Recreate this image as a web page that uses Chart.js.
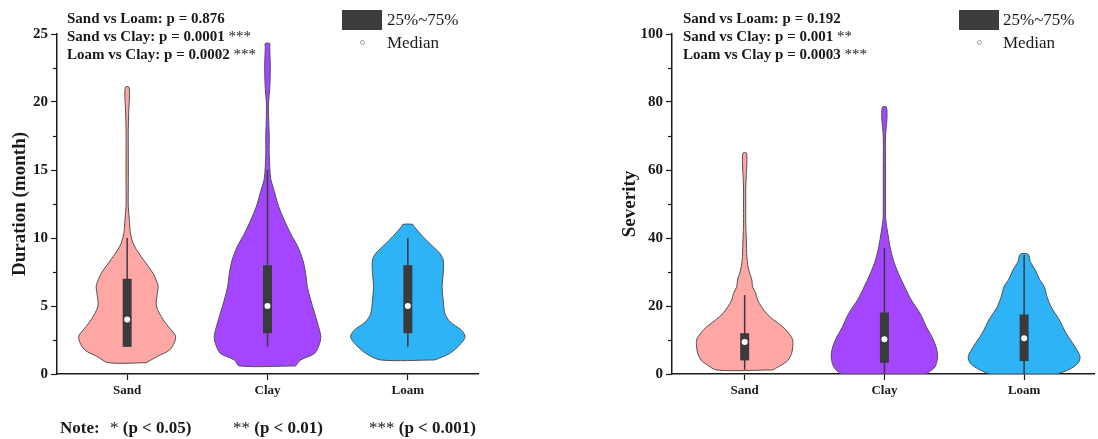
<!DOCTYPE html>
<html>
<head>
<meta charset="utf-8">
<script src="https://cdn.jsdelivr.net/npm/chart.js@4.4.1/dist/chart.umd.min.js"></script>
<style>
  body { margin: 0; background: #fff; }
  #wrap { position: relative; width: 1098px; height: 439px; overflow: hidden; font-family: "Liberation Serif", serif; color: #1a1a1a; }
  .panel { position: absolute; top: 0; width: 549px; height: 439px; }
  .ptext { position: absolute; top: 9px; font-weight: bold; font-size: 15px; line-height: 18px; white-space: nowrap; }
  .star { font-weight: normal; }
  .lg-box { position: absolute; top: 10px; width: 40px; height: 20px; background: #3d3d3d; }
  .lg-dot { position: absolute; top: 40px; width: 3px; height: 3px; border: 1px solid #9a9a9a; border-radius: 50%; }
  .lg-text { position: absolute; font-size: 17px; line-height: 20px; white-space: nowrap; }
  .note { position: absolute; top: 418px; font-size: 17px; font-weight: bold; line-height: 20px; white-space: nowrap; }
</style>
</head>
<body>
<div id="wrap">
  <div class="panel" style="left:0"><canvas id="durChart" width="549" height="439"></canvas></div>
  <div class="panel" style="left:549px"><canvas id="sevChart" width="549" height="439"></canvas></div>

  <div class="ptext" style="left:67px">
    Sand vs Loam: p = 0.876<br>
    Sand vs Clay: p = 0.0001 <span class="star">***</span><br>
    Loam vs Clay: p = 0.0002 <span class="star">***</span>
  </div>
  <div class="ptext" style="left:683px">
    Sand vs Loam: p = 0.192<br>
    Sand vs Clay: p = 0.001 <span class="star">**</span><br>
    Loam vs Clay p = 0.0003 <span class="star">***</span>
  </div>

  <div class="lg-box" style="left:342px"></div>
  <div class="lg-text" style="left:387px;top:10px">25%~75%</div>
  <div class="lg-dot" style="left:360px"></div>
  <div class="lg-text" style="left:387px;top:33px">Median</div>

  <div class="lg-box" style="left:959px"></div>
  <div class="lg-text" style="left:1003px;top:10px">25%~75%</div>
  <div class="lg-dot" style="left:977px"></div>
  <div class="lg-text" style="left:1003px;top:33px">Median</div>

  <div class="note" style="left:60px">Note:</div>
  <div class="note" style="left:110px"><span class="star">*</span> (p &lt; 0.05)</div>
  <div class="note" style="left:233px"><span class="star">**</span> (p &lt; 0.01)</div>
  <div class="note" style="left:369px"><span class="star">***</span> (p &lt; 0.001)</div>
</div>

<script>
const categories = ["Sand", "Clay", "Loam"];
const fillColors = ["#FFA7A5", "#A445FF", "#2DB3F6"];
const boxColor = "#3b3b3b";
const VIOLIN_HALF = 0.4; // category units for density 1

// Duration (month) panel
const durTicks = [0, 5, 10, 15, 20, 25];
const durSandLevels = [0.83, 1.3, 1.75, 2.3, 2.8, 3.5, 4.0, 5.0, 6.0, 6.5, 7.4, 8.4, 9.4, 10.3, 11.3, 12.3, 14, 16, 18, 19.5, 20.3, 21.1];
const durSandDensity = [0.34, 0.54, 0.75, 0.84, 0.86, 0.73, 0.64, 0.52, 0.54, 0.55, 0.46, 0.29, 0.13, 0.06, 0.04, 0.02, 0.02, 0.02, 0.02, 0.03, 0.04, 0.03];
const durClayLevels = [0.59, 1.03, 1.52, 2.26, 2.75, 3.48, 4.46, 5.44, 6.42, 7.4, 8.38, 9.36, 10.34, 11.3, 12.3, 13.3, 14.3, 15.2, 16.2, 17.5, 19, 20, 21, 22.5, 24, 24.3];
const durClayDensity = [0.50, 0.59, 0.84, 0.93, 0.95, 0.91, 0.84, 0.77, 0.71, 0.68, 0.63, 0.54, 0.41, 0.30, 0.20, 0.13, 0.06, 0.04, 0.03, 0.03, 0.02, 0.02, 0.04, 0.05, 0.04, 0.04];
const durLoamLevels = [1.03, 1.52, 2.26, 2.75, 3.24, 3.85, 4.46, 5.44, 6.42, 7.4, 8.38, 8.87, 9.36, 10.1, 10.85, 11.0];
const durLoamDensity = [0.48, 0.75, 0.95, 1.02, 0.95, 0.75, 0.66, 0.63, 0.61, 0.63, 0.63, 0.57, 0.45, 0.27, 0.11, 0.09];
const durQ1 = [2, 3, 3];
const durQ3 = [7, 8, 8];
const durMedian = [4, 5, 5];
const durLow = [2, 2, 2];
const durHigh = [10, 15, 10];

// Severity panel
const sevTicks = [0, 20, 40, 60, 80, 100];
const sevSandLevels = [1.18, 3.14, 4.1, 6.08, 8.04, 10.0, 11.96, 13.9, 15.9, 17.8, 19.8, 21.8, 23.7, 25.7, 27.6, 29.6, 31.6, 34.5, 39.4, 44.3, 50, 55, 59, 62, 65];
const sevSandDensity = [0.50, 0.71, 0.78, 0.84, 0.86, 0.86, 0.79, 0.68, 0.52, 0.39, 0.30, 0.23, 0.20, 0.14, 0.13, 0.09, 0.06, 0.04, 0.03, 0.02, 0.02, 0.02, 0.03, 0.04, 0.03];
const sevClayLevels = [0, 2.2, 6.0, 9.9, 13.9, 17.8, 21.8, 25.7, 29.6, 33.5, 37.5, 41.4, 45.3, 50, 60, 70, 75, 78.5];
const sevClayDensity = [0.75, 0.91, 0.95, 0.88, 0.75, 0.64, 0.48, 0.36, 0.25, 0.16, 0.10, 0.06, 0.025, 0.02, 0.02, 0.02, 0.045, 0.035];
const sevLoamLevels = [0, 1.2, 3.1, 5.1, 8.0, 12.0, 15.9, 19.8, 22.7, 25.7, 28.0, 30.6, 33.0, 35.2];
const sevLoamDensity = [0.59, 0.79, 0.96, 1.0, 0.91, 0.75, 0.63, 0.48, 0.41, 0.36, 0.27, 0.20, 0.11, 0.07];
const sevQ1 = [4, 3.3, 3.8];
const sevQ3 = [12, 18.1, 17.5];
const sevMedian = [9.4, 10.2, 10.5];
const sevLow = [1.2, 0, 0];
const sevHigh = [23.2, 37, 35];

Chart.defaults.font.family = '"Liberation Serif", serif';
Chart.defaults.color = "#1a1a1a";

// short minor ticks between the labelled ones
const minorTicks = {
  id: "minorTicks",
  afterDraw(chart, args, opts) {
    const y = chart.scales.y;
    const ctx = chart.ctx;
    ctx.save();
    ctx.strokeStyle = "#1a1a1a";
    ctx.lineWidth = 1.2;
    opts.values.forEach((v) => {
      const py = Math.round(y.getPixelForValue(v)) + 0.5;
      ctx.beginPath();
      ctx.moveTo(y.right - 4, py);
      ctx.lineTo(y.right, py);
      ctx.stroke();
    });
    ctx.restore();
  },
};

function midpoints(ticks) {
  const out = [];
  for (let i = 1; i < ticks.length; i++) out.push((ticks[i - 1] + ticks[i]) / 2);
  return out;
}

function buildPanel(canvasId, p) {
  const datasets = [];
  categories.forEach((name, i) => {
    const c = i + 1;
    const lv = p.levels[i];
    const dn = p.density[i];
    const pts = [];
    for (let k = 0; k < lv.length; k++) pts.push({ x: c + dn[k] * VIOLIN_HALF, y: lv[k] });
    for (let k = lv.length - 1; k >= 0; k--) pts.push({ x: c - dn[k] * VIOLIN_HALF, y: lv[k] });
    pts.push(pts[0]);

    // violin outline
    datasets.push({
      data: pts, showLine: true, fill: "shape", tension: 0.3,
      backgroundColor: fillColors[i], borderColor: "#505050", borderWidth: 1,
      pointRadius: 0, order: 3,
    });
    // whisker
    datasets.push({
      data: [{ x: c, y: p.low[i] }, { x: c, y: p.high[i] }], showLine: true,
      borderColor: boxColor, borderWidth: 1.5, pointRadius: 0, order: 2,
    });
    // 25%~75% box
    datasets.push({
      data: [{ x: c, y: p.q1[i] }, { x: c, y: p.q3[i] }], showLine: true,
      borderColor: boxColor, borderWidth: 9, borderCapStyle: "butt", pointRadius: 0, order: 1,
    });
    // median
    datasets.push({
      data: [{ x: c, y: p.median[i] }], pointRadius: 3,
      backgroundColor: "#ffffff", borderColor: "#ffffff", borderWidth: 0, order: 0,
    });
  });

  return new Chart(document.getElementById(canvasId), {
    type: "scatter",
    data: { datasets },
    plugins: [minorTicks],
    options: {
      responsive: false,
      animation: false,
      layout: { padding: { left: 0, right: p.padRight, top: 34, bottom: 0 } },
      plugins: {
        legend: { display: false },
        tooltip: { enabled: false },
        minorTicks: { values: midpoints(p.ticks) },
      },
      scales: {
        x: {
          type: "linear", min: p.xMin, max: 3.5,
          afterBuildTicks: (s) => { s.ticks = categories.map((_, i) => ({ value: i + 1 })); },
          ticks: { callback: (v) => categories[v - 1], font: { size: 13, weight: "bold" }, padding: 3 },
          grid: { drawOnChartArea: false, tickLength: 6, color: "#1a1a1a", tickWidth: 1.2 },
          border: { color: "#1a1a1a", width: 1.5 },
          afterFit: (s) => { s.height = 65; },
        },
        y: {
          min: 0, max: p.ticks[p.ticks.length - 1],
          afterBuildTicks: (s) => { s.ticks = p.ticks.map((v) => ({ value: v })); },
          ticks: { font: { size: 15, weight: "bold" }, padding: 3 },
          grid: { drawOnChartArea: false, tickLength: 6, color: "#1a1a1a", tickWidth: 1.2 },
          border: { color: "#1a1a1a", width: 1.5 },
          title: { display: true, text: p.title, font: { size: 19, weight: "bold" }, padding: { top: p.titlePad, bottom: 0 } },
          afterFit: (s) => { s.width = p.axisLeft; },
        },
      },
    },
  });
}

buildPanel("durChart", {
  title: "Duration (month)", titlePad: 8.5, axisLeft: 57, padRight: 71, xMin: 0.5,
  ticks: durTicks,
  levels: [durSandLevels, durClayLevels, durLoamLevels],
  density: [durSandDensity, durClayDensity, durLoamDensity],
  q1: durQ1, q3: durQ3, median: durMedian, low: durLow, high: durHigh,
});

buildPanel("sevChart", {
  title: "Severity", titlePad: 69.5, axisLeft: 123, padRight: 2, xMin: 0.48,
  ticks: sevTicks,
  levels: [sevSandLevels, sevClayLevels, sevLoamLevels],
  density: [sevSandDensity, sevClayDensity, sevLoamDensity],
  q1: sevQ1, q3: sevQ3, median: sevMedian, low: sevLow, high: sevHigh,
});
</script>
</body>
</html>
